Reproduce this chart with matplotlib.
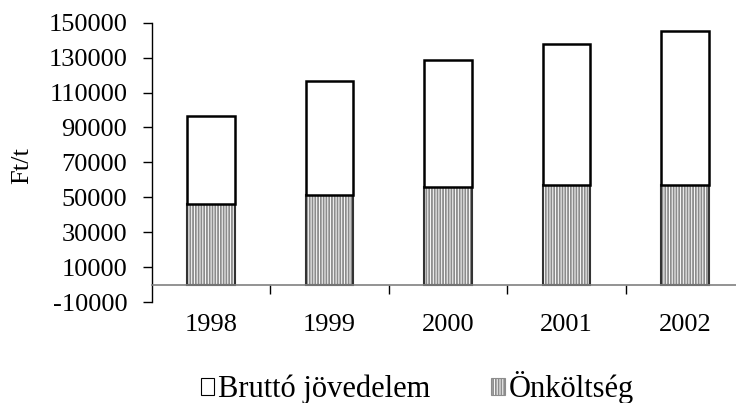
import matplotlib.pyplot as plt
import numpy as np
from matplotlib.patches import Patch

# data
years = ['1998', '1999', '2000', '2001', '2002']
onkoltseg = [46300, 51500, 55900, 57200, 57000]
brutto = [50300, 65100, 73000, 80300, 88300]

plt.rcParams['font.family'] = ['Liberation Serif', 'DejaVu Serif']
plt.rcParams['font.size'] = 19
plt.rcParams['axes.unicode_minus'] = False
plt.rcParams['hatch.linewidth'] = 1.3
plt.rcParams['hatch.color'] = '#8c8c8c'

fig = plt.figure(figsize=(7.36, 4.03), dpi=100)
ax = fig.add_axes([0.206, 0.25, 0.805, 0.6938])

x = np.arange(len(years))
w = 0.4

# hatched bottom part, then its outline
ax.bar(x, onkoltseg, w, color='white', edgecolor='#8c8c8c', hatch='||||||', linewidth=0)
ax.bar(x, onkoltseg, w, fill=False, edgecolor='#333333', linewidth=1.5)
# white top part
ax.bar(x, brutto, w, bottom=onkoltseg, color='white', edgecolor='black', linewidth=1.8)

ax.set_xlim(-0.5, 4.5)
ax.set_ylim(-10000, 150000)
ax.set_yticks(np.arange(-10000, 150001, 20000))
ax.tick_params(axis='y', length=6.5, width=1, pad=11, direction='out')

for s in ['top', 'right']:
    ax.spines[s].set_visible(False)
ax.spines['left'].set_linewidth(1)
ax.spines['bottom'].set_position(('data', 0))
ax.spines['bottom'].set_color('#808080')
ax.spines['bottom'].set_linewidth(1.2)

ax.set_xticks(x)
ax.set_xticklabels(years)
ax.set_xticks(x[:-1] + 0.5, minor=True)
ax.tick_params(axis='x', which='major', length=0, pad=21)
ax.tick_params(axis='x', which='minor', length=6.5, width=1, color='black')

ax.set_ylabel('Ft/t')
ax.yaxis.set_label_coords(-0.200, 0.49)

handles = [Patch(facecolor='white', edgecolor='black', linewidth=0.8),
           Patch(facecolor='white', edgecolor='#8c8c8c', hatch='||||||', linewidth=0.8)]
fig.legend(handles, ['Bruttó jövedelem', 'Önköltség'], loc='center',
           bbox_to_anchor=(0.567, 0.038), ncol=2, frameon=False, fontsize=22,
           handlelength=0.45, handleheight=0.5, handletextpad=0.12,
           columnspacing=2.0, borderpad=0)

fig.savefig('out.png', dpi=100)
